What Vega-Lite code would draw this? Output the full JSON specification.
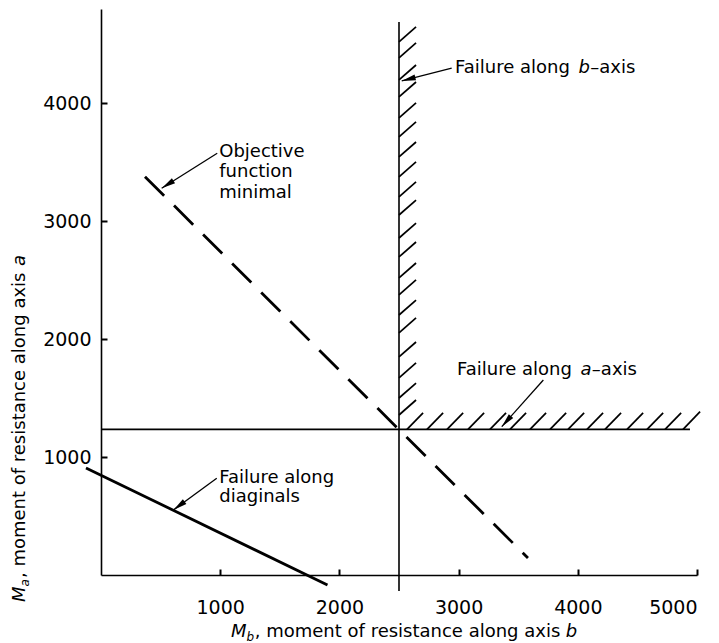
{
  "$schema": "https://vega.github.io/schema/vega-lite/v6.json",
  "autosize": {"type": "none"},
  "padding": {"left": 101, "top": 9, "right": 22, "bottom": 68},
  "width": 596,
  "height": 566,
  "background": "white",
  "config": {
    "view": {"stroke": null},
    "axis": {
      "grid": false,
      "domainColor": "black",
      "domainWidth": 1.6,
      "tickColor": "black",
      "tickWidth": 2,
      "tickSize": -6,
      "labelFont": "DejaVu Sans",
      "labelFontSize": 19,
      "labelColor": "black",
      "title": null
    },
    "text": {"font": "DejaVu Sans", "fontSize": 18, "color": "black", "align": "left", "baseline": "alphabetic"}
  },
  "datasets": {
    "frame": [
      {"x": 2500, "y": -136, "x2": 2500, "y2": 4690},
      {"x": 0, "y": 1235, "x2": 4941, "y2": 1235}
    ],
    "hatch": [
      {"x": 2500, "y": 4521, "x2": 2643, "y2": 4648},
      {"x": 2500, "y": 4385, "x2": 2643, "y2": 4512},
      {"x": 2500, "y": 4198, "x2": 2643, "y2": 4325},
      {"x": 2500, "y": 4054, "x2": 2643, "y2": 4181},
      {"x": 2500, "y": 3876, "x2": 2643, "y2": 4003},
      {"x": 2500, "y": 3715, "x2": 2643, "y2": 3842},
      {"x": 2500, "y": 3545, "x2": 2643, "y2": 3672},
      {"x": 2500, "y": 3376, "x2": 2643, "y2": 3503},
      {"x": 2500, "y": 3206, "x2": 2643, "y2": 3333},
      {"x": 2500, "y": 3053, "x2": 2643, "y2": 3180},
      {"x": 2500, "y": 2858, "x2": 2643, "y2": 2985},
      {"x": 2500, "y": 2697, "x2": 2643, "y2": 2824},
      {"x": 2500, "y": 2519, "x2": 2643, "y2": 2646},
      {"x": 2500, "y": 2375, "x2": 2643, "y2": 2502},
      {"x": 2500, "y": 2205, "x2": 2643, "y2": 2332},
      {"x": 2500, "y": 2053, "x2": 2643, "y2": 2180},
      {"x": 2500, "y": 1849, "x2": 2643, "y2": 1976},
      {"x": 2500, "y": 1671, "x2": 2643, "y2": 1798},
      {"x": 2500, "y": 1501, "x2": 2643, "y2": 1628},
      {"x": 2500, "y": 1357, "x2": 2643, "y2": 1484},
      {"x": 2567, "y": 1235, "x2": 2702, "y2": 1375},
      {"x": 2735, "y": 1235, "x2": 2870, "y2": 1375},
      {"x": 2903, "y": 1235, "x2": 3038, "y2": 1375},
      {"x": 3079, "y": 1235, "x2": 3214, "y2": 1375},
      {"x": 3263, "y": 1235, "x2": 3398, "y2": 1375},
      {"x": 3431, "y": 1235, "x2": 3566, "y2": 1375},
      {"x": 3599, "y": 1235, "x2": 3734, "y2": 1375},
      {"x": 3767, "y": 1235, "x2": 3902, "y2": 1375},
      {"x": 3918, "y": 1235, "x2": 4053, "y2": 1375},
      {"x": 4077, "y": 1235, "x2": 4212, "y2": 1375},
      {"x": 4228, "y": 1235, "x2": 4363, "y2": 1375},
      {"x": 4413, "y": 1235, "x2": 4548, "y2": 1375},
      {"x": 4581, "y": 1235, "x2": 4716, "y2": 1375},
      {"x": 4732, "y": 1235, "x2": 4867, "y2": 1375},
      {"x": 4883, "y": 1235, "x2": 5026, "y2": 1385}
    ],
    "diag": [
      {"x": -126, "y": 908, "x2": 1900, "y2": -85}
    ],
    "objective": [
      {"x": 369, "y": 3378, "x2": 3582, "y2": 144}
    ],
    "arrows": [
      {"id": "b", "x": 2942, "y": 4298, "tx": 2523, "ty": 4190},
      {"id": "a", "x": 3711, "y": 1654, "tx": 3362, "ty": 1258},
      {"id": "obj", "x": 975, "y": 3577, "tx": 509, "ty": 3280},
      {"id": "diag", "x": 971, "y": 820, "tx": 607, "ty": 551}
    ],
    "texts": [
      {"role": "plain", "txt": "Failure along", "x": 2970, "y": 4260},
      {"role": "ital", "txt": "b", "x": 4005, "y": 4260},
      {"role": "plain", "txt": "–axis", "x": 4105, "y": 4260},
      {"role": "plain", "txt": "Failure along", "x": 2987, "y": 1696},
      {"role": "ital", "txt": "a", "x": 4022, "y": 1696},
      {"role": "plain", "txt": "–axis", "x": 4118, "y": 1696},
      {"role": "plain", "txt": "Objective", "x": 992, "y": 3548},
      {"role": "plain", "txt": "function", "x": 992, "y": 3373},
      {"role": "plain", "txt": "minimal", "x": 992, "y": 3195},
      {"role": "plain", "txt": "Failure along", "x": 992, "y": 783},
      {"role": "plain", "txt": "diaginals", "x": 992, "y": 622},
      {"role": "ital", "txt": "M", "x": 1091, "y": -526},
      {"role": "sub", "txt": "b", "x": 1221, "y": -560},
      {"role": "plain", "txt": ", moment of resistance along axis", "x": 1290, "y": -526},
      {"role": "ital", "txt": "b", "x": 3899, "y": -526},
      {"role": "vital", "txt": "M", "x": -638, "y": -229},
      {"role": "vsub", "txt": "a", "x": -604, "y": -98},
      {"role": "vplain", "txt": ", moment of resistance along axis", "x": -638, "y": -26},
      {"role": "vital", "txt": "a", "x": -638, "y": 2620}
    ]
  },
  "encoding": {
    "x": {"type": "quantitative", "scale": {"domain": [0, 5000], "nice": false, "zero": false}},
    "y": {"type": "quantitative", "scale": {"domain": [0, 4800], "nice": false, "zero": false}}
  },
  "layer": [
    {
      "data": {"name": "frame"},
      "mark": {"type": "rule", "color": "black", "strokeWidth": 1.6},
      "encoding": {
        "x": {"field": "x", "type": "quantitative", "axis": {"values": [1000, 2000, 3000, 4000, 5000], "format": "d", "labelPadding": 29}},
        "y": {"field": "y", "type": "quantitative", "axis": {"values": [1000, 2000, 3000, 4000], "format": "d", "labelPadding": 16}},
        "x2": {"field": "x2"},
        "y2": {"field": "y2"}
      }
    },
    {
      "data": {"name": "hatch"},
      "mark": {"type": "rule", "color": "black", "strokeWidth": 1.7},
      "encoding": {
        "x": {"field": "x", "type": "quantitative"},
        "y": {"field": "y", "type": "quantitative"},
        "x2": {"field": "x2"},
        "y2": {"field": "y2"}
      }
    },
    {
      "data": {"name": "diag"},
      "mark": {"type": "rule", "color": "black", "strokeWidth": 2.8},
      "encoding": {
        "x": {"field": "x", "type": "quantitative"},
        "y": {"field": "y", "type": "quantitative"},
        "x2": {"field": "x2"},
        "y2": {"field": "y2"}
      }
    },
    {
      "data": {"name": "objective"},
      "mark": {"type": "rule", "color": "black", "strokeWidth": 2.8, "strokeDash": [27, 14]},
      "encoding": {
        "x": {"field": "x", "type": "quantitative"},
        "y": {"field": "y", "type": "quantitative"},
        "x2": {"field": "x2"},
        "y2": {"field": "y2"}
      }
    },
    {
      "data": {"name": "arrows"},
      "mark": {"type": "rule", "color": "black", "strokeWidth": 1.3},
      "encoding": {
        "x": {"field": "x", "type": "quantitative"},
        "y": {"field": "y", "type": "quantitative"},
        "x2": {"field": "tx"},
        "y2": {"field": "ty"}
      }
    },
    {
      "data": {"name": "arrows"},
      "transform": [{"calculate": "atan2(datum.tx - datum.x, datum.ty - datum.y) * 180 / PI", "as": "ang"}],
      "mark": {"type": "point", "shape": "M0,0L0.42,2L-0.42,2Z", "filled": true, "color": "black", "opacity": 1, "size": 196},
      "encoding": {
        "x": {"field": "tx", "type": "quantitative"},
        "y": {"field": "ty", "type": "quantitative"},
        "angle": {"field": "ang", "type": "quantitative", "scale": null}
      }
    },
    {
      "data": {"name": "texts"},
      "transform": [{"filter": "datum.role === 'plain'"}],
      "mark": {"type": "text"},
      "encoding": {
        "x": {"field": "x", "type": "quantitative"},
        "y": {"field": "y", "type": "quantitative"},
        "text": {"field": "txt"}
      }
    },
    {
      "data": {"name": "texts"},
      "transform": [{"filter": "datum.role === 'ital'"}],
      "mark": {"type": "text", "fontStyle": "italic"},
      "encoding": {
        "x": {"field": "x", "type": "quantitative"},
        "y": {"field": "y", "type": "quantitative"},
        "text": {"field": "txt"}
      }
    },
    {
      "data": {"name": "texts"},
      "transform": [{"filter": "datum.role === 'sub'"}],
      "mark": {"type": "text", "fontStyle": "italic", "fontSize": 12},
      "encoding": {
        "x": {"field": "x", "type": "quantitative"},
        "y": {"field": "y", "type": "quantitative"},
        "text": {"field": "txt"}
      }
    },
    {
      "data": {"name": "texts"},
      "transform": [{"filter": "datum.role === 'vplain'"}],
      "mark": {"type": "text", "angle": 270},
      "encoding": {
        "x": {"field": "x", "type": "quantitative"},
        "y": {"field": "y", "type": "quantitative"},
        "text": {"field": "txt"}
      }
    },
    {
      "data": {"name": "texts"},
      "transform": [{"filter": "datum.role === 'vital'"}],
      "mark": {"type": "text", "angle": 270, "fontStyle": "italic"},
      "encoding": {
        "x": {"field": "x", "type": "quantitative"},
        "y": {"field": "y", "type": "quantitative"},
        "text": {"field": "txt"}
      }
    },
    {
      "data": {"name": "texts"},
      "transform": [{"filter": "datum.role === 'vsub'"}],
      "mark": {"type": "text", "angle": 270, "fontStyle": "italic", "fontSize": 12},
      "encoding": {
        "x": {"field": "x", "type": "quantitative"},
        "y": {"field": "y", "type": "quantitative"},
        "text": {"field": "txt"}
      }
    }
  ]
}
